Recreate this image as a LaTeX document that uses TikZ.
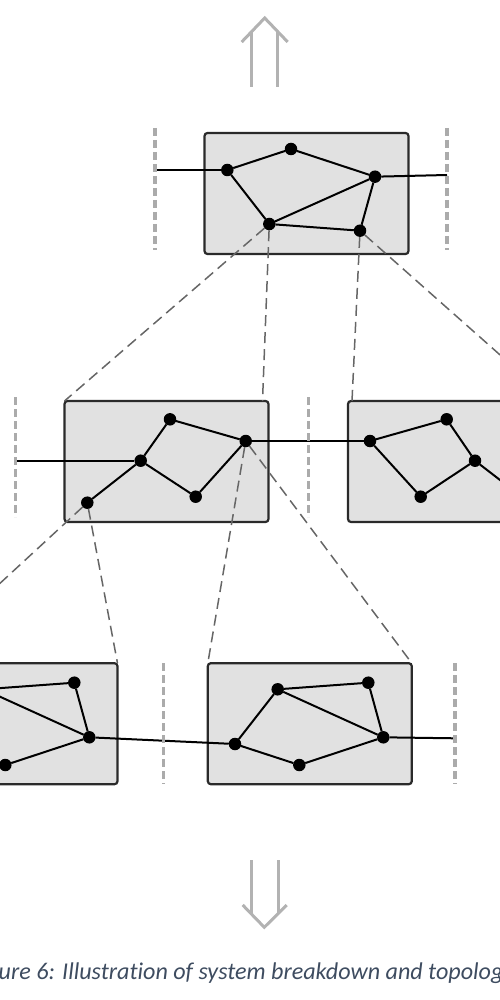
\documentclass[tikz,border=0pt]{standalone}
\usepackage{fontspec}
\setmainfont{Carlito}[Ligatures=NoCommon]
\usepackage{xcolor}
\usepackage{tikz}
\usetikzlibrary{positioning}

\definecolor{boxfill}{HTML}{E1E1E1}
\definecolor{boxline}{HTML}{2A2A2A}
\definecolor{tracegray}{HTML}{666666}
\definecolor{sepgray}{HTML}{ABABAB}
\definecolor{arrowgray}{HTML}{B2B2B2}
\definecolor{capblue}{HTML}{3E4C60}

\begin{document}
\begin{tikzpicture}[
  x=1pt, y=-1pt,
  every node/.style={inner sep=0pt, outer sep=0pt},
  box/.style={draw=boxline, fill=boxfill, line width=2.2pt, rounded corners=3pt,
    minimum width=204pt, minimum height=121pt},
  dot/.style={circle, fill=black, minimum size=12.5pt},
  link/.style={line width=2pt},
  trace/.style={draw=tracegray, line width=1.5pt, dash pattern=on 11pt off 6pt},
  sep/.style={draw=sepgray, line width=3.5pt, dash pattern=on 8pt off 4pt},
  level/.style={draw=arrowgray, line width=3pt},
  caption/.style={anchor=base, text=capblue, font=\fontsize{24.1}{30}\selectfont\itshape}
]
\useasboundingbox (0,0) rectangle (500,1000);
\clip (0,0) rectangle (500,1000);

% boxes
\node[box] (top) at (306.5,193.5) {};
\node[box] (ml)  at (166.5,461.5) {};
\node[box] (mr)  at (450,461.5)   {};
\node[box] (bl)  at (15.5,723.7)  {};
\node[box] (bm)  at (309.8,723.7) {};

% separators
\coordinate (s1a) at (155,128);   \coordinate (s1b) at (155,250);
\coordinate (s2a) at (447,128);   \coordinate (s2b) at (447,250);
\coordinate (s3a) at (15.7,397);  \coordinate (s3b) at (15.7,517);
\coordinate (s4a) at (308.3,397); \coordinate (s4b) at (308.3,517);
\coordinate (s5a) at (163.3,663); \coordinate (s5b) at (163.3,784);
\coordinate (s6a) at (455,663);   \coordinate (s6b) at (455,784);

% top level
\node[dot] (t1) at (227.3,170) {};
\node[dot] (t2) at (291,149) {};
\node[dot] (t3) at (375,176.7) {};
\node[dot] (t4) at (269.3,224) {};
\node[dot] (t5) at (360,230.7) {};

% middle level
\node[dot] (m1) at (87.3,502.7) {};
\node[dot] (m2) at (140.7,460.7) {};
\node[dot] (m3) at (170,419.3) {};
\node[dot] (m4) at (245.7,441) {};
\node[dot] (m5) at (195.7,496.7) {};
\node[dot] (r1) at (370,441) {};
\node[dot] (r2) at (446.7,419.3) {};
\node[dot] (r3) at (475,460.7) {};
\node[dot] (r4) at (420.7,496.7) {};
\node[dot] (r5) at (520,495.4) {};

% bottom level
\node[dot] (l1) at (-59,744) {};
\node[dot] (l2) at (-16.3,689.3) {};
\node[dot] (l3) at (74.3,682.7) {};
\node[dot] (l4) at (89.3,737.3) {};
\node[dot] (l5) at (5.3,765) {};
\node[dot] (b1) at (235,744) {};
\node[dot] (b2) at (277.7,689.3) {};
\node[dot] (b3) at (368.3,682.7) {};
\node[dot] (b4) at (383.3,737.3) {};
\node[dot] (b5) at (299.3,765) {};

% links inside the boxes
\draw[link] (t1) -- (t2) -- (t3) -- (t4) -- (t1);
\draw[link] (t4) -- (t5) -- (t3);
\draw[link] (m1) -- (m2) -- (m3) -- (m4);
\draw[link] (m2) -- (m5) -- (m4);
\draw[link] (r1) -- (r2) -- (r3) -- (r4) -- (r1);
\draw[link] (r3) -- (r5);
\draw[link] (l1) -- (l2) -- (l3) -- (l4) -- (l5) -- (l1);
\draw[link] (l2) -- (l4);
\draw[link] (b1) -- (b2) -- (b3) -- (b4) -- (b5) -- (b1);
\draw[link] (b2) -- (b4);

% links across the boundaries
\draw[link] (155,170) -- (t1);
\draw[link] (t3) -- (447,175);
\draw[link] (15.7,460.7) -- (m2);
\draw[link] (m4) -- (r1);
\draw[link] (l4) -- (b1);
\draw[link] (b4) -- (455,738.3);

% breakdown traces
\draw[trace] (t4) -- (ml.north west);
\draw[trace] (t4) -- ([xshift=-6pt]ml.north east);
\draw[trace] (t5) -- ([xshift=4pt]mr.north west);
\draw[trace] (t5) -- (mr.north east);
\draw[trace] (m1) -- (bl.north west);
\draw[trace] (m1) -- (bl.north east);
\draw[trace] (m4) -- (bm.north west);
\draw[trace] (m4) -- (bm.north east);

\draw[sep] (s1a) -- (s1b);
\draw[sep] (s2a) -- (s2b);
\draw[sep] (s3a) -- (s3b);
\draw[sep] (s4a) -- (s4b);
\draw[sep] (s5a) -- (s5b);
\draw[sep] (s6a) -- (s6b);

% up and down arrows
\draw[level] (251.7,87) -- (251.7,31.6);
\draw[level] (277.3,87) -- (277.3,31.6);
\draw[level] (241.7,42) -- (264.7,18) -- (287.7,42);
\draw[level] (251,860) -- (251,914);
\draw[level] (278,860) -- (278,914);
\draw[level] (242.7,905) -- (264.3,927.3) -- (286.7,905);

\node[caption] (cap) at (242,979) {Figure 6: Illustration of system breakdown and topology};
\end{tikzpicture}
\end{document}
